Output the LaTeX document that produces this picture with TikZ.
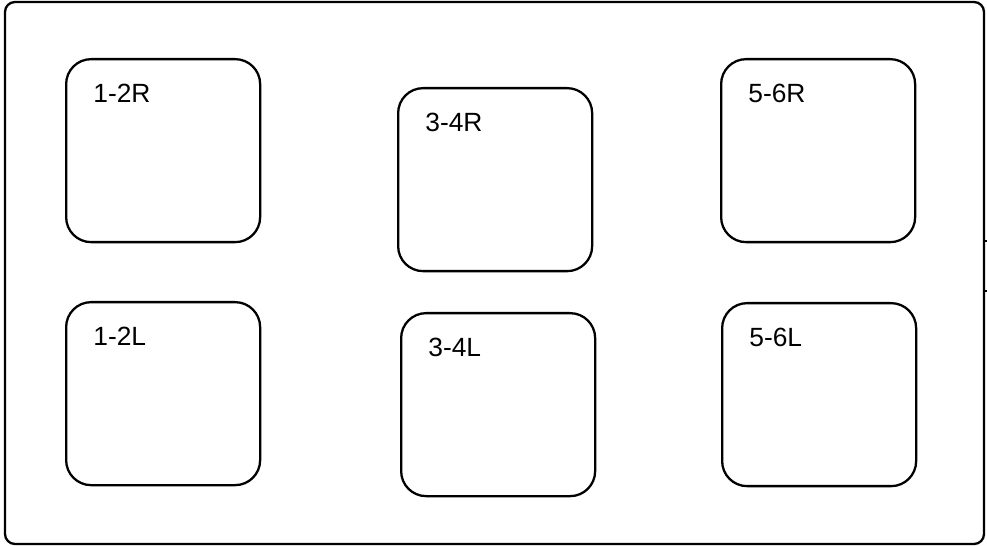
\documentclass[tikz,border=0pt]{standalone}
\usepackage{fontspec}
\setmainfont{Liberation Sans}
\usetikzlibrary{positioning}

\tikzset{
    seat/.style={draw, line width=1.3pt, rounded corners=0.5cm, anchor=north west,
        minimum width=\w cm, minimum height=\h cm, inner sep=0pt},
    seatlabel/.style={anchor=base west, inner sep=0pt, font=\fontsize{15}{17}\selectfont}
}

\begin{document}
\begin{tikzpicture}
        \def\w{3.88}
        \def\h{3.66}

        \useasboundingbox (0,0) rectangle (19.74,-10.92);

        % outer frame
        \draw[line width=1.3pt, rounded corners=0.2cm] (0.10,-0.04) rectangle (19.68,-10.88);
        \coordinate (tickA) at (19.68,-4.82);
        \coordinate (tickB) at (19.68,-5.82);
        \draw[line width=0.8pt] (tickA) -- ++(0.06,0);
        \draw[line width=0.8pt] (tickB) -- ++(0.06,0);

        % top row
        \node[seat] (r12) at (1.30,-1.16) {};
        \node[seat] (r34) at (7.94,-1.74) {};
        \node[seat] (r56) at (14.40,-1.16) {};

        % bottom row
        \node[seat] (l12) at (1.30,-6.02) {};
        \node[seat] (l34) at (8.00,-6.24) {};
        \node[seat] (l56) at (14.42,-6.04) {};

        \node[seatlabel] (tr12) at ([shift={(0.56,-0.90)}]r12.north west) {1-2R};
        \node[seatlabel] (tr34) at ([shift={(0.56,-0.90)}]r34.north west) {3-4R};
        \node[seatlabel] (tr56) at ([shift={(0.56,-0.90)}]r56.north west) {5-6R};
        \node[seatlabel] (tl12) at ([shift={(0.56,-0.90)}]l12.north west) {1-2L};
        \node[seatlabel] (tl34) at ([shift={(0.56,-0.90)}]l34.north west) {3-4L};
        \node[seatlabel] (tl56) at ([shift={(0.56,-0.90)}]l56.north west) {5-6L};
    \end{tikzpicture}
\end{document}
